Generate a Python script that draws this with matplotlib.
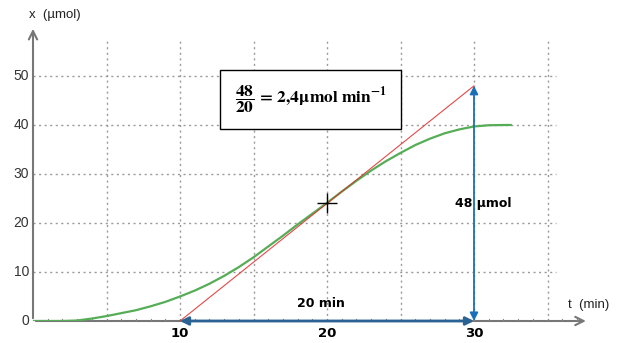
import matplotlib
matplotlib.use("Agg")
import matplotlib.pyplot as plt
from matplotlib.patches import Rectangle

# green curve: amount of product x (µmol) vs time t (min)
t_curve = [0, 2, 3, 4, 5, 6, 7, 8, 9, 10, 11, 12, 13, 14, 15, 16, 17, 18, 19,
           20, 21, 22, 23, 24, 25, 26, 27, 28, 29, 30, 31, 32, 32.5]
x_curve = [0, 0, 0.1, 0.5, 1.0, 1.6, 2.2, 3.0, 3.9, 5.0, 6.2, 7.6, 9.2, 11.0,
           13.0, 15.2, 17.4, 19.7, 21.9, 24.1, 26.4, 28.6, 30.7, 32.6, 34.3,
           35.9, 37.2, 38.3, 39.1, 39.7, 39.95, 40.0, 40.0]

# tangent at t = 20
tangent_t = [10, 30]
tangent_x = [0, 48]
point = (20, 24)

y_ticks = [0, 10, 20, 30, 40, 50]
x_ticks = [10, 20, 30]
x_grid = [5, 10, 15, 20, 25, 30, 35]

plt.rcParams["mathtext.fontset"] = "stix"
plt.rcParams["mathtext.default"] = "bf"

fig = plt.figure(figsize=(6.25, 3.43), dpi=100)
ax = fig.add_axes([33 / 625, 22 / 343, 570 / 625, 301 / 343])
ax.set_xlim(0, 570 / 14.7)
ax.set_ylim(0, 301 / 4.9)
for s in ax.spines.values():
    s.set_visible(False)
ax.set_xticks([])
ax.set_yticks([])

grid_kw = dict(color="#9a9a9a", lw=1, ls=(0, (1.5, 2.5)), zorder=1)
for y in y_ticks[1:]:
    ax.plot([0, 35.6], [y, y], **grid_kw)
for xg in x_grid:
    ax.plot([xg, xg], [0, 57.3], **grid_kw)

# axes with open arrow heads
ax.annotate("", xy=(0, 60.2), xytext=(0, 0),
            arrowprops=dict(arrowstyle="->", color="#777777", lw=1.5,
                            mutation_scale=15), zorder=3)
ax.annotate("", xy=(37.8, 0), xytext=(0, 0),
            arrowprops=dict(arrowstyle="->", color="#777777", lw=1.5,
                            mutation_scale=15), zorder=3)
for m in range(1, 38):
    ax.plot([m, m], [-0.5, 0.5], color="#888888", lw=0.8, zorder=3)

for y in y_ticks:
    ax.text(-0.25, y, str(y), ha="right", va="center", fontsize=10,
            color="#333333", family="Liberation Sans")
for xt in x_ticks:
    ax.text(xt, -1.2, str(xt), ha="center", va="top", fontsize=9.5,
            fontweight="bold")
ax.text(-0.3, 62.4, "x  (µmol)", ha="left", va="center", fontsize=9.5,
        family="Liberation Sans", color="#222222", clip_on=False)
ax.text(36.4, 3.3, "t  (min)", ha="left", va="center", fontsize=9.5,
        family="Liberation Sans", color="#222222")

# curve and tangent
ax.plot(t_curve, x_curve, color="#55ad55", lw=1.6, zorder=4)
ax.plot(tangent_t, tangent_x, color="#e02a2a", lw=0.8, zorder=5, alpha=0.85)
ax.plot(*point, marker="+", color="black", ms=14, mew=1, zorder=6)

# dimension arrows
ax.annotate("", xy=(30, 48), xytext=(30, 0),
            arrowprops=dict(arrowstyle="<|-|>", color="#1a70b8", lw=1.3,
                            mutation_scale=12, shrinkA=0, shrinkB=0), zorder=6)
ax.annotate("", xy=(30, 0), xytext=(10, 0),
            arrowprops=dict(arrowstyle="<|-|>", color="#2a6294", lw=2,
                            mutation_scale=12, shrinkA=0, shrinkB=0), zorder=6)
ax.text(19.6, 2.3, "20 min", ha="center", va="bottom", fontsize=9,
        fontweight="bold")
ax.text(30.6, 24, "48 µmol", ha="center", va="center", fontsize=9,
        fontweight="bold")

# slope box
ax.add_patch(Rectangle((12.72, 39.2), 12.31, 12.0, fill=True, fc="white",
                       ec="black", lw=1, zorder=7))
ax.text(18.9, 45.2,
        r"$\dfrac{\mathbf{48}}{\mathbf{20}}\mathbf{\,=\,2{,}4}\mu\mathbf{mol\ min^{-1}}$",
        ha="center", va="center", fontsize=12.5, zorder=8)

fig.savefig("out.png", dpi=100)
